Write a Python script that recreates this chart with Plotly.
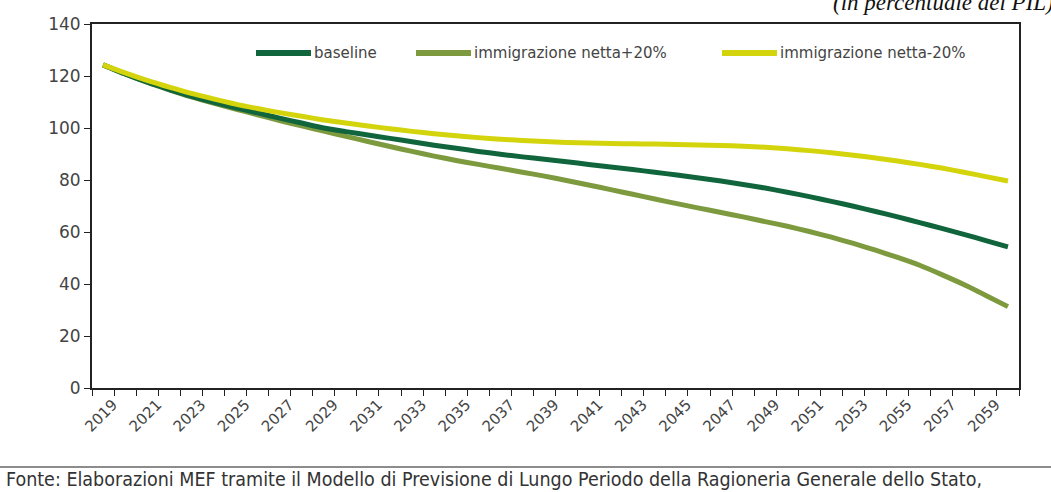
import plotly.graph_objects as go

years = list(range(2019, 2061))

baseline = [124.3, 120.8, 117.6, 114.8, 112.2, 109.9, 107.8, 105.8, 103.8, 101.9,
            100.0, 98.6, 97.3, 96.0, 94.7, 93.4, 92.2, 91.0, 89.9, 88.9,
            88.0, 87.0, 86.0, 85.0, 84.0, 83.0, 81.9, 80.8, 79.6, 78.3,
            76.9, 75.3, 73.6, 71.8, 69.9, 67.9, 65.8, 63.6, 61.4, 59.1,
            56.7, 54.3]

imm_plus20 = [124.3, 120.8, 117.6, 114.7, 112.0, 109.6, 107.3, 105.1, 102.9, 100.8,
              98.8, 96.8, 94.8, 92.9, 91.0, 89.2, 87.5, 86.0, 84.5, 83.0,
              81.5, 79.8, 78.1, 76.3, 74.5, 72.7, 70.9, 69.2, 67.5, 65.8,
              64.0, 62.2, 60.2, 58.0, 55.6, 53.0, 50.2, 47.2, 43.6, 39.8,
              35.6, 31.3]

imm_minus20 = [124.3, 121.2, 118.3, 115.7, 113.3, 111.2, 109.2, 107.5, 105.9, 104.5,
               103.1, 101.9, 100.8, 99.7, 98.7, 97.8, 97.0, 96.3, 95.7, 95.2,
               94.8, 94.4, 94.2, 94.0, 93.9, 93.8, 93.7, 93.5, 93.3, 93.0,
               92.6, 92.0, 91.3, 90.5, 89.5, 88.5, 87.3, 86.0, 84.6, 83.0,
               81.3, 79.6]

series_names = ["baseline", "immigrazione netta+20%", "immigrazione netta-20%"]
series_values = [baseline, imm_plus20, imm_minus20]
series_colors = ["#11653d", "#7d9a3f", "#d4d40c"]

tick_years = list(range(2019, 2060, 2))
tick_labels = [str(y) for y in tick_years]
y_ticks = list(range(0, 141, 20))

title_text = "(in percentuale del PIL)"
source_text = ("Fonte: Elaborazioni MEF tramite il Modello di Previsione di Lungo Periodo "
               "della Ragioneria Generale dello Stato,")

FONT = "DejaVu Sans, Liberation Sans, Arial, sans-serif"

fig = go.Figure()
# draw order: +20, baseline, -20 (yellow on top)
for idx in [1, 0, 2]:
    fig.add_trace(go.Scatter(
        x=years, y=series_values[idx], mode="lines", name=series_names[idx],
        line=dict(color=series_colors[idx], width=5, shape="spline", smoothing=0.6),
        showlegend=False, hoverinfo="skip"))

W, H = 1051, 492
ml, mr, mt, mb = 92, 32, 24, 104
pw, ph = W - ml - mr, H - mt - mb

def px_x(x):
    return (x - ml) / pw

def px_y(y):
    return (H - mb - y) / ph

shapes = []
annotations = []

# custom legend
leg_y = px_y(53)
leg_line_starts = [256, 416, 722]
leg_len = 55
for i, name in enumerate(series_names):
    x0 = leg_line_starts[i]
    shapes.append(dict(type="line", xref="paper", yref="paper",
                       x0=px_x(x0), x1=px_x(x0 + leg_len), y0=leg_y, y1=leg_y,
                       line=dict(color=series_colors[i], width=6)))
    annotations.append(dict(xref="paper", yref="paper", x=px_x(x0 + leg_len + 1), y=leg_y,
                            xanchor="left", yanchor="middle", text=name, showarrow=False,
                            font=dict(family=FONT, size=15, color="#444444")))

# title (top right, partially clipped as in the source)
annotations.append(dict(xref="paper", yref="paper", x=px_x(1056), y=px_y(3),
                        xanchor="right", yanchor="middle", text="<i>" + title_text + "</i>",
                        showarrow=False,
                        font=dict(family="Liberation Serif, DejaVu Serif, serif", size=23, color="#111111")))

# source rule and text
shapes.append(dict(type="line", xref="paper", yref="paper",
                   x0=px_x(0), x1=px_x(W), y0=px_y(467), y1=px_y(467),
                   line=dict(color="#8c8c8c", width=2)))
annotations.append(dict(xref="paper", yref="paper", x=px_x(4), y=px_y(479),
                        xanchor="left", yanchor="middle", text=source_text, showarrow=False,
                        font=dict(family="Liberation Sans Narrow, DejaVu Sans Condensed, Liberation Sans, sans-serif",
                                  size=19.5, color="#333333")))

fig.update_layout(
    width=W, height=H,
    margin=dict(l=ml, r=mr, t=mt, b=mb),
    paper_bgcolor="white", plot_bgcolor="white",
    showlegend=False,
    shapes=shapes, annotations=annotations,
)

fig.update_xaxes(
    range=[2018.5, 2060.5],
    tickmode="array", tickvals=[y + 0.45 for y in tick_years], ticktext=tick_labels,
    tickangle=-45, ticks="",
    tickfont=dict(family=FONT, size=15, color="#444444"),
    showline=True, mirror=True, linecolor="#222222", linewidth=2,
    showgrid=False, zeroline=False,
    minor=dict(tick0=2018.5, dtick=1, ticks="outside", ticklen=6, tickcolor="#222222",
               tickwidth=1, showgrid=False),
)
fig.update_yaxes(
    range=[0, 140], tickmode="array", tickvals=y_ticks,
    ticks="outside", ticklen=6, tickcolor="#222222",
    tickfont=dict(family=FONT, size=17, color="#444444"),
    showline=True, mirror=True, linecolor="#222222", linewidth=2,
    showgrid=False, zeroline=False,
)

fig.write_html("out.html")
